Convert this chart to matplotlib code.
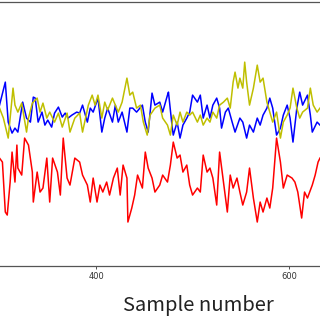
import matplotlib
matplotlib.use('Agg')
import matplotlib.pyplot as plt

# sample numbers / amplitudes (arbitrary amplitude units)
blue_x = [300, 306, 309, 313, 316, 319, 324, 328, 332, 335, 337, 340, 344, 347, 350,
          354, 357, 361, 365, 368, 371, 375, 380, 383,
          386, 391, 394, 397, 402, 406, 409, 412, 417, 420, 423, 427, 432, 435, 438,
          442, 448, 451, 454, 458, 461, 466,
          469, 474, 475, 479, 480, 484, 487, 490, 494, 497, 500, 505, 508, 511, 515,
          518, 521, 525, 528, 530, 534, 537, 541, 544, 549,
          552, 556, 559, 563, 567, 570, 573, 577, 580, 583, 587, 591, 594, 598, 601,
          604, 608, 611, 614, 619, 622, 624, 629, 632]
blue_y = [161, 184, 144, 133, 138, 134, 164, 148, 144, 169, 168, 144, 154, 141, 146,
          139, 153, 159, 149, 153, 148, 151, 154, 153,
          161, 144, 158, 154, 168, 134, 148, 158, 144, 161, 144, 154, 134, 158, 158,
          154, 161, 144, 134, 173, 161, 164,
          154, 171, 174, 138, 131, 144, 128, 141, 148, 154, 171, 164, 171, 148, 161,
          148, 161, 168, 158, 138, 154, 158, 144, 134, 148,
          144, 128, 141, 134, 148, 141, 151, 158, 168, 158, 131, 138, 151, 161, 148,
          124, 158, 174, 161, 171, 151, 134, 144, 141]

yellow_x = [300, 304, 309, 314, 316, 319, 323, 328, 330, 334, 339, 342, 345, 349, 352,
            357, 361, 365, 370, 373, 378, 383,
            386, 392, 396, 399, 402, 406, 409, 412, 417, 420, 423, 427, 432, 435, 438,
            442, 446, 449, 453, 456, 461, 466,
            469, 474, 477, 480, 484, 487, 490, 494, 497, 500, 505, 508, 511, 515, 518,
            521, 525, 528, 532, 536, 539, 542, 544, 547, 549,
            552, 554, 556, 559, 563, 567, 570, 573, 577, 580, 583, 587, 591, 594, 598,
            601, 604, 608, 611, 614, 619, 622, 625, 629, 632]
yellow_y = [158, 148, 128, 178, 161, 154, 163, 134, 148, 163, 168, 154, 163, 148, 154,
            144, 153, 139, 153, 134, 148, 153,
            134, 161, 171, 161, 171, 148, 164, 156, 168, 161, 154, 164, 188, 171, 174,
            158, 161, 144, 131, 151, 158, 161,
            148, 141, 131, 151, 141, 154, 144, 154, 151, 154, 144, 151, 141, 148, 144,
            154, 148, 161, 164, 168, 158, 184, 194, 178, 188,
            178, 204, 184, 161, 178, 201, 184, 188, 164, 154, 144, 154, 128, 144, 151,
            158, 178, 158, 148, 154, 158, 178, 161, 154, 158]

red_x = [300, 303, 306, 308, 311, 313, 316, 318, 319, 323, 326, 330, 334, 335, 339,
         342, 345, 349, 352, 355, 360, 363, 366, 370, 373, 378, 383,
         386, 391, 394, 397, 401, 404, 407, 411, 414, 418, 422, 425, 428, 432, 433,
         437, 440, 443, 448, 451, 454, 458, 461, 466,
         469, 474, 477, 480, 484, 487, 490, 494, 497, 500, 505, 508, 511, 515, 518,
         521, 525, 528, 532, 536, 539, 542, 546, 549,
         552, 556, 559, 563, 567, 570, 573, 577, 580, 583, 587, 591, 594, 598, 603,
         606, 609, 613, 616, 619, 624, 627, 630, 632]
red_y = [108, 104, 54, 51, 84, 114, 84, 121, 98, 91, 128, 121, 94, 64, 94,
         74, 78, 108, 64, 108, 94, 71, 128, 88, 81, 108, 104,
         91, 81, 64, 88, 64, 81, 74, 84, 71, 88, 98, 71, 101, 88, 44,
         58, 71, 91, 78, 114, 98, 88, 74, 81,
         91, 84, 101, 124, 108, 111, 94, 101, 81, 71, 78, 74, 111, 94, 98,
         88, 61, 114, 84, 54, 91, 78, 88, 74,
         61, 74, 98, 68, 44, 64, 54, 68, 58, 78, 128, 104, 78, 91, 88,
         84, 74, 48, 74, 68, 81, 91, 104, 108]

xticks = [400, 600]
xlabel = 'Sample number'

fig = plt.figure(figsize=(3.2, 3.2), dpi=100)
ax = fig.add_axes([0.0, 0.16875, 1.0, 0.826])

ax.plot(red_x, red_y, color='#ff0000', lw=1.1)
ax.plot(blue_x, blue_y, color='#0000ff', lw=1.1)
ax.plot(yellow_x, yellow_y, color='#bfbf00', lw=1.1)

ax.set_xlim(300.5, 632)
ax.set_ylim(0, 264.5)
ax.set_xticks(xticks)
ax.set_yticks([])
ax.tick_params(axis='x', labelsize=6, colors='#333333', length=2.5, width=0.6, pad=2)
for side in ['left', 'right']:
    ax.spines[side].set_visible(False)
for side in ['top', 'bottom']:
    ax.spines[side].set_color('#555555')
    ax.spines[side].set_linewidth(0.9)

fig.text(198 / 320, 1 - 305 / 320, xlabel, ha='center', va='center',
         fontsize=14.5, family=['Noto Sans CJK SC', 'DejaVu Sans'], color='#222222')

fig.savefig('out.png', dpi=100)
